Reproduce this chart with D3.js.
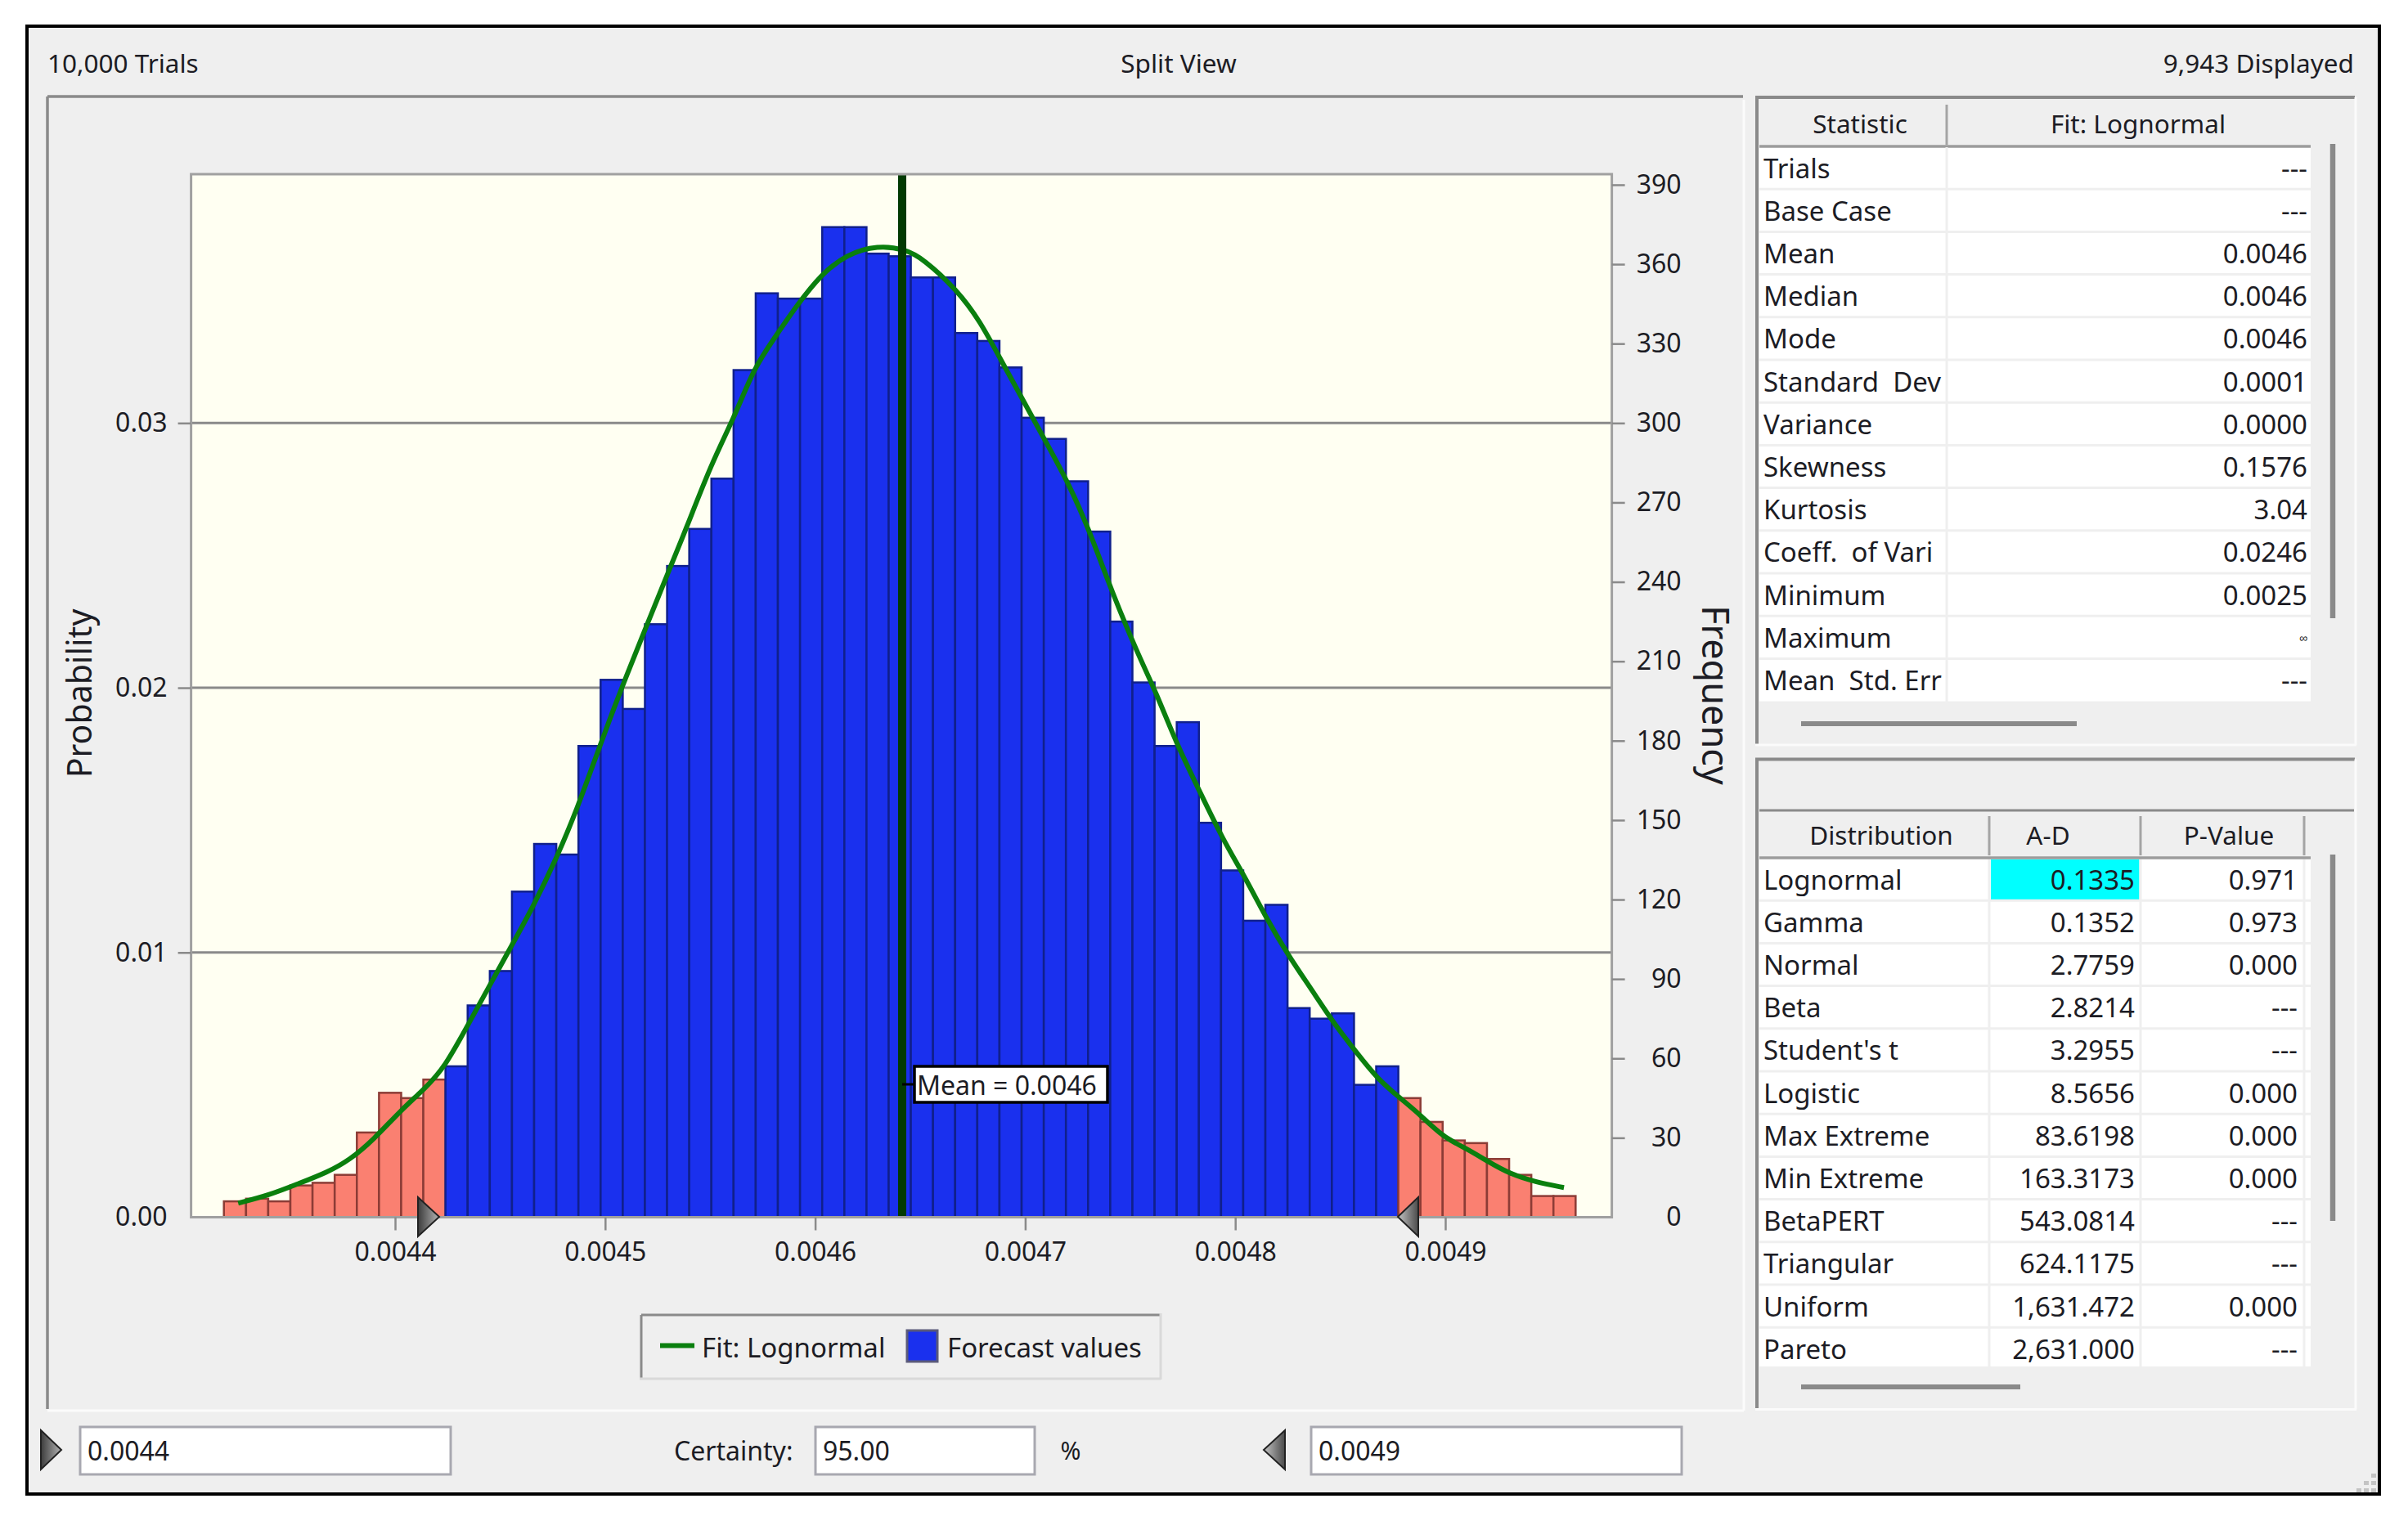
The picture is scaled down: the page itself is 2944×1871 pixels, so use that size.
<!DOCTYPE html>
<html>
<head>
<meta charset="utf-8">
<script src="https://d3js.org/d3.v7.min.js"></script>
<style>
    html, body { margin: 0; padding: 0; background: #fff; }
    text { font-family: "Noto Sans", sans-serif; fill: #1c1c24; white-space: pre; }
</style>
</head>
<body>
<svg id="chart" width="2944" height="1871"></svg>
<script>
/*************************
 *  data
*************************/
const binStart = 0.0043185
const binWidth = 0.00001055
const lowerCut = 0.00442364
const upperCut = 0.00487741
const meanValue = 0.00464143

const binCounts = [6, 7, 6, 12, 13, 16, 32, 47, 45, 52, 57, 80, 93, 123, 141, 137, 178, 203, 192, 224,
    246, 260, 279, 320, 349, 347, 347, 374, 374, 364, 363, 355, 355, 334, 331, 321, 302, 294, 278, 259,
    225, 202, 178, 187, 149, 131, 112, 118, 79, 75, 77, 50, 57, 45, 36, 29, 28, 22, 16, 8, 8]

const fitX = [.0043253, .0043403, .004354, .0043676, .0043785, .0043895, .0044031, .0044141, .0044236, .0044345,
    .0044455, .004455, .004466, .0044769, .0044864, .0044974, .0045083, .0045302, .0045384, .0045507,
    .0045616, .0045711, .0045807, .0045916, .0046026, .0046148, .0046299, .004643, .0046512, .0046676,
    .0046785, .0046881, .004699, .0047099, .0047208, .0047304, .0047414, .0047536, .0047625, .004772,
    .004783, .0047939, .0048048, .0048144, .0048253, .0048363, .0048458, .0048581, .0048677, .0048786,
    .0048882, .0048991, .00491, .004921, .0049305, .0049428, .0049565]
const fitCounts = [5.3, 8.4, 12.7, 16.9, 21.7, 29.1, 40.7, 48.5, 56.6, 72.4,
    88.2, 101.9, 117.7, 135.7, 153.6, 177.9, 201.1, 243.9, 259.7, 284.9,
    302.3, 321.2, 332.2, 344.8, 355.9, 363.7, 367.2, 365.6, 362.2, 350.3,
    338.5, 324.3, 308.6, 292.8, 277, 259.7, 236, 212.8, 197.9, 178.9,
    161, 143, 128.3, 113.5, 98.8, 86.1, 74.5, 61.8, 52.3, 44.9,
    38.6, 30.2, 26, 20.7, 16.5, 13.3, 11.2]

const xTicks = [0.0044, 0.0045, 0.0046, 0.0047, 0.0048, 0.0049]
const probTicks = [0, 0.01, 0.02, 0.03]
const freqTicks = [0, 30, 60, 90, 120, 150, 180, 210, 240, 270, 300, 330, 360, 390]

const statNames = ['Trials', 'Base Case', 'Mean', 'Median', 'Mode', 'Standard  Dev', 'Variance', 'Skewness', 'Kurtosis', 'Coeff.  of Vari', 'Minimum', 'Maximum', 'Mean  Std. Err']
const statValues = ['---', '---', '0.0046', '0.0046', '0.0046', '0.0001', '0.0000', '0.1576', '3.04', '0.0246', '0.0025', '∞', '---']

const distNames = ['Lognormal', 'Gamma', 'Normal', 'Beta', "Student's t", 'Logistic', 'Max Extreme', 'Min Extreme', 'BetaPERT', 'Triangular', 'Uniform', 'Pareto']
const adValues = ['0.1335', '0.1352', '2.7759', '2.8214', '3.2955', '8.5656', '83.6198', '163.3173', '543.0814', '624.1175', '1,631.472', '2,631.000']
const pValues = ['0.971', '0.973', '0.000', '---', '---', '0.000', '0.000', '0.000', '---', '---', '0.000', '---']

/*************************
 *  layout helpers
*************************/
const svg = d3.select('#chart')
const FONT = 33
const HEAD_FONT = 31.5
const GREY = '#8a8a8a'
const GREEN = '#0a7f0e'

function line(g, x1, y1, x2, y2, color, w) {
    return g.append('line').attr('x1', x1).attr('y1', y1).attr('x2', x2).attr('y2', y2)
        .attr('stroke', color).attr('stroke-width', w)
}

function label(g, x, y, txt, anchor, size) {
    return g.append('text').attr('x', x).attr('y', y).attr('text-anchor', anchor || 'start')
        .attr('dominant-baseline', 'central').attr('font-size', size || FONT).text(txt)
}

/*************************
 *  window frame
*************************/
svg.append('rect').attr('width', 2944).attr('height', 1871).attr('fill', '#fff')
svg.append('rect').attr('x', 33).attr('y', 32).attr('width', 2876).attr('height', 1795)
    .attr('fill', '#efefef').attr('stroke', '#000').attr('stroke-width', 4)

let frame = svg.append('g').attr('id', 'frame')
label(frame, 58, 76, '10,000 Trials', 'start', HEAD_FONT)
label(frame, 1441, 76, 'Split View', 'middle', HEAD_FONT)
label(frame, 2878, 76, '9,943 Displayed', 'end', HEAD_FONT)

// left panel edges
line(frame, 58, 118, 2131, 118, GREY, 3.5)
line(frame, 58, 118, 58, 1723, GREY, 3.5)
line(frame, 58, 1725, 2132, 1725, '#fbfbfb', 3)
line(frame, 2132, 122, 2132, 1725, '#fbfbfb', 3)

/*************************
 *  histogram
*************************/
const plot = {left: 233.6, right: 1970.6, top: 213, bottom: 1488.5}

let x = d3.scaleLinear().domain([0.00430287, 0.00497929]).range([plot.left, plot.right])
let yProb = d3.scaleLinear().domain([0, 0.0394]).range([plot.bottom, plot.top])
let yFreq = d3.scaleLinear().domain([0, 394]).range([plot.bottom, plot.top])

let chart = svg.append('g').attr('id', 'plot')

chart.append('rect')
    .attr('x', plot.left).attr('y', plot.top)
    .attr('width', plot.right - plot.left).attr('height', plot.bottom - plot.top)
    .attr('fill', '#fffff2')

chart.append('g')
    .selectAll('line')
    .data(probTicks.slice(1))
    .join('line')
    .attr('x1', plot.left).attr('x2', plot.right)
    .attr('y1', d => yProb(d)).attr('y2', d => yProb(d))
    .attr('stroke', GREY).attr('stroke-width', 3)

chart.append('g')
    .selectAll('rect')
    .data(binCounts)
    .join('rect')
    .attr('x', (d, i) => x(binStart + i * binWidth))
    .attr('y', d => yFreq(d))
    .attr('width', x(binStart + binWidth) - x(binStart))
    .attr('height', d => yFreq(0) - yFreq(d))
    .attr('fill', (d, i) => isTail(i) ? '#fa8071' : '#1a30ee')
    .attr('stroke', (d, i) => isTail(i) ? '#8c3c36' : '#10208c')
    .attr('stroke-width', 2.5)

function isTail(i) {
    let mid = binStart + (i + 0.5) * binWidth
    return mid < lowerCut || mid > upperCut
}

// the fitted curve
const fitLine = d3.line()
    .x(d => x(d[0]))
    .y(d => yFreq(d[1]))
    .curve(d3.curveBasis)

chart.append('path')
    .datum(d3.zip(fitX, fitCounts))
    .attr('d', fitLine)
    .attr('fill', 'none')
    .attr('stroke', GREEN)
    .attr('stroke-width', 6)

// mean line
line(chart, x(meanValue), plot.top, x(meanValue), plot.bottom, '#023a02', 10)
line(chart, x(meanValue), 1326, x(meanValue) + 15, 1326, '#000', 3)

// plot border
chart.append('path')
    .attr('d', `M${plot.left},${plot.bottom}V${plot.top}H${plot.right}V${plot.bottom}Z`)
    .attr('fill', 'none').attr('stroke', '#a0a0a0').attr('stroke-width', 3)

/*************************
 *  axes
*************************/
function styleAxis(g) {
    g.select('.domain').remove()
    g.selectAll('.tick line').attr('stroke', GREY).attr('stroke-width', 2.5)
    g.selectAll('.tick text').attr('font-size', 32).attr('font-family', '"Noto Sans", sans-serif').attr('fill', '#1c1c24')
    // no tick mark at the zero of the two value axes
    g.selectAll('.tick').filter(d => d === 0).select('line').remove()
}

chart.append('g')
    .attr('transform', `translate(${plot.left},0)`)
    .call(d3.axisLeft(yProb).tickValues(probTicks).tickFormat(d3.format('.2f')).tickSize(16).tickPadding(13))
    .call(styleAxis)

chart.append('g')
    .attr('transform', `translate(${plot.right},0)`)
    .call(d3.axisRight(yFreq).tickValues(freqTicks).tickSize(16).tickPadding(12))
    .call(styleAxis)
    .call(g => g.selectAll('.tick text').attr('text-anchor', 'end').attr('x', 85))

chart.append('g')
    .attr('transform', `translate(0,${plot.bottom})`)
    .call(d3.axisBottom(x).tickValues(xTicks).tickFormat(d3.format('.4f')).tickSize(16).tickPadding(15))
    .call(styleAxis)

chart.append('text')
    .attr('transform', 'translate(96,848) rotate(-90)')
    .attr('text-anchor', 'middle').attr('dominant-baseline', 'central')
    .attr('font-size', 41).text('Probability')

chart.append('text')
    .attr('transform', 'translate(2098,850) rotate(90)')
    .attr('text-anchor', 'middle').attr('dominant-baseline', 'central')
    .attr('font-size', 45).text('Frequency')

// mean callout
chart.append('rect').attr('x', 1118).attr('y', 1304).attr('width', 236).attr('height', 44)
    .attr('fill', '#fff').attr('stroke', '#000').attr('stroke-width', 3.5)
label(chart, 1121, 1326, 'Mean = 0.0046', 'start', 32)

/*************************
 *  certainty grabbers
*************************/
let defs = svg.append('defs')
let gradR = defs.append('linearGradient').attr('id', 'gradRight')
gradR.append('stop').attr('offset', '0%').attr('stop-color', '#3c3c3c')
gradR.append('stop').attr('offset', '100%').attr('stop-color', '#b4b4b4')
let gradL = defs.append('linearGradient').attr('id', 'gradLeft')
gradL.append('stop').attr('offset', '0%').attr('stop-color', '#c4c4c4')
gradL.append('stop').attr('offset', '100%').attr('stop-color', '#4a4a4a')

function grabber(xBase, xTip, yTop, yBottom, fill) {
    svg.append('path')
        .attr('d', `M${xBase},${yTop}L${xTip},${(yTop + yBottom) / 2}L${xBase},${yBottom}Z`)
        .attr('fill', fill).attr('stroke', '#222').attr('stroke-width', 2)
}

grabber(511, 537, 1464, 1512, 'url(#gradRight)')
grabber(1734, 1709, 1464, 1512, 'url(#gradLeft)')
grabber(50, 75, 1749, 1797, 'url(#gradRight)')
grabber(1571, 1545, 1749, 1797, 'url(#gradLeft)')

/*************************
 *  legend
*************************/
let legend = svg.append('g').attr('id', 'legend')
line(legend, 784, 1608, 1419, 1608, GREY, 3)
line(legend, 784, 1608, 784, 1686, GREY, 3)
line(legend, 782, 1686, 1419, 1686, '#d9d9d9', 3)
line(legend, 1419, 1606, 1419, 1687, '#d9d9d9', 3)
line(legend, 807, 1645.5, 849, 1645.5, GREEN, 6)
label(legend, 858, 1647, 'Fit: Lognormal')
legend.append('rect').attr('x', 1109).attr('y', 1627).attr('width', 37).attr('height', 38)
    .attr('fill', '#1a30ee').attr('stroke', '#5a5a7a').attr('stroke-width', 3)
label(legend, 1158, 1647, 'Forecast values')

/*************************
 *  bottom inputs
*************************/
let inputs = svg.append('g').attr('id', 'inputs')

function inputBox(x0, x1, txt) {
    inputs.append('rect').attr('x', x0).attr('y', 1745).attr('width', x1 - x0).attr('height', 58)
        .attr('fill', '#fff').attr('stroke', '#a8a8b0').attr('stroke-width', 3)
    label(inputs, x0 + 9, 1773, txt, 'start', 32)
}

inputBox(98, 551, '0.0044')
inputBox(997, 1265, '95.00')
inputBox(1603, 2056, '0.0049')
label(inputs, 824, 1773, 'Certainty:', 'start', 32)
label(inputs, 1309, 1773, '%', 'middle', 30)

/*************************
 *  statistics table
*************************/
const rowH = 52.2
const tableLeft = 2151
const tableRight = 2825

function panel(top, bottom) {
    let p = svg.append('g')
    line(p, 2146, top, 2879, top, GREY, 4)
    line(p, 2148, top, 2148, bottom, GREY, 4)
    line(p, 2146, bottom, 2881, bottom, '#fbfbfb', 3)
    line(p, 2880, top, 2880, bottom, '#fbfbfb', 3)
    return p
}

function scrollbars(p, hEnd, hY, vTop, vBottom) {
    line(p, 2202, hY, hEnd, hY, GREY, 6)
    line(p, 2852, vTop, 2852, vBottom, GREY, 6.5)
}

let stats = panel(119, 911)
stats.append('rect').attr('x', tableLeft).attr('y', 179).attr('width', tableRight - tableLeft).attr('height', rowH * statNames.length)
    .attr('fill', '#fff')
line(stats, tableLeft, 179, tableRight, 179, '#9c9c9c', 3.5)
line(stats, 2380, 128, 2380, 177, '#a4a4a4', 3)
line(stats, 2380, 180, 2380, 859, '#efefef', 3)
label(stats, 2274, 150, 'Statistic', 'middle', HEAD_FONT)
label(stats, 2614, 150, 'Fit: Lognormal', 'middle', HEAD_FONT)

stats.selectAll('.rowLine')
    .data(statNames.slice(1))
    .join('line')
    .attr('x1', tableLeft).attr('x2', tableRight)
    .attr('y1', (d, i) => 179 + (i + 1) * rowH).attr('y2', (d, i) => 179 + (i + 1) * rowH)
    .attr('stroke', '#efefef').attr('stroke-width', 3)

statNames.forEach((name, i) => {
    let cy = 179 + (i + 0.5) * rowH
    label(stats, 2156, cy, name)
    label(stats, 2821, cy, statValues[i], 'end', statValues[i] == '∞' ? 14 : FONT)
})
scrollbars(stats, 2539, 885, 176, 756)

/*************************
 *  distribution table
*************************/
let dist = panel(928.5, 1723.5)
const distTop = 1049
const distBottom = 1671
dist.append('rect').attr('x', tableLeft).attr('y', distTop).attr('width', tableRight - tableLeft).attr('height', distBottom - distTop)
    .attr('fill', '#fff')
line(dist, tableLeft, 991, 2878, 991, GREY, 3)
line(dist, tableLeft, distTop, tableRight, distTop, '#9c9c9c', 3.5)
dist.append('rect').attr('x', 2434).attr('y', distTop + 2).attr('width', 181.5).attr('height', 50)
    .attr('fill', '#00ffff')

const distCols = [2432, 2617, 2817]
distCols.forEach(cx => {
    line(dist, cx, 998, cx, 1046, '#a4a4a4', 3)
    line(dist, cx, distTop + 2, cx, distBottom, '#efefef', 3)
})
label(dist, 2300, 1020, 'Distribution', 'middle', HEAD_FONT)
label(dist, 2504, 1020, 'A-D', 'middle', HEAD_FONT)
label(dist, 2725, 1020, 'P-Value', 'middle', HEAD_FONT)

dist.selectAll('.rowLine')
    .data(distNames.slice(1))
    .join('line')
    .attr('x1', tableLeft).attr('x2', tableRight)
    .attr('y1', (d, i) => distTop + (i + 1) * rowH).attr('y2', (d, i) => distTop + (i + 1) * rowH)
    .attr('stroke', '#efefef').attr('stroke-width', 3)

distNames.forEach((name, i) => {
    let cy = distTop + (i + 0.5) * rowH
    label(dist, 2156, cy, name)
    label(dist, 2610, cy, adValues[i], 'end')
    label(dist, 2809, cy, pValues[i], 'end')
})
scrollbars(dist, 2470, 1696, 1045, 1493)

/*************************
 *  resize grip
*************************/
const gripDots = [[2899, 1802], [2890, 1811], [2899, 1811], [2881, 1820], [2890, 1820], [2899, 1820]]
svg.append('g').selectAll('rect')
    .data(gripDots)
    .join('rect')
    .attr('x', d => d[0]).attr('y', d => d[1])
    .attr('width', 6).attr('height', 5)
    .attr('fill', '#c4c4c4')
</script>
</body>
</html>
